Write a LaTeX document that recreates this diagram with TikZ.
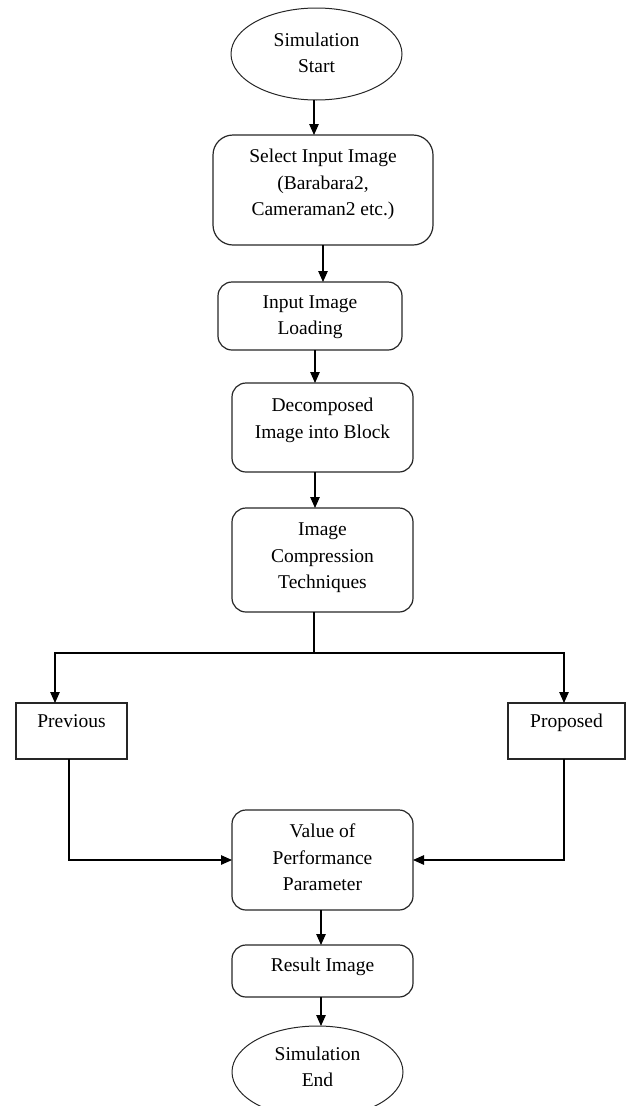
\documentclass[tikz,border=0pt]{standalone}
\usepackage{fontspec}
\setmainfont{Liberation Serif}
\usetikzlibrary{shapes.geometric,arrows.meta}
\newcommand{\lift}[2]{\raisebox{#1}[\height][\depth]{\begin{tabular}{@{}c@{}}#2\end{tabular}}}
\begin{document}
\begin{tikzpicture}[x=1pt,y=-1pt,
  font=\fontsize{19.5}{26.5}\selectfont,
  base/.style={draw=black!85, line width=1.2pt, inner sep=0pt, outer sep=0pt},
  term/.style={base, ellipse, line width=1pt, minimum width=171pt, minimum height=92pt},
  rbox/.style={base, rectangle, rounded corners=14pt, minimum width=181pt},
  pbox/.style={base, rectangle, minimum height=56pt},
  arr/.style={line width=1.2pt, -{Triangle[length=11pt,width=9.5pt]}},
  ln/.style={line width=1.2pt}]
\useasboundingbox (0,0) rectangle (629,1106);

\node[term] (start) at (316.5,54) {\lift{0pt}{Simulation\\Start}};
\node[rbox, rounded corners=20pt, minimum width=220pt, minimum height=110pt] (select) at (323,190) {\lift{6pt}{Select Input Image\\(Barabara2,\\Cameraman2 etc.)}};
\node[rbox, minimum width=184pt, minimum height=68pt] (input) at (310,316) {\lift{0pt}{Input Image\\Loading}};
\node[rbox, minimum height=89pt] (decomp) at (322.5,427.5) {\lift{8pt}{Decomposed\\Image into Block}};
\node[rbox, minimum height=104pt] (comp) at (322.5,560) {\lift{3pt}{Image\\Compression\\Techniques}};
\node[pbox, minimum width=111pt] (prev) at (71.5,731) {\lift{9pt}{Previous}};
\node[pbox, minimum width=117pt] (prop) at (566.5,731) {\lift{9pt}{Proposed}};
\node[rbox, minimum height=100pt] (value) at (322.5,860) {\lift{1pt}{Value of\\Performance\\Parameter}};
\node[rbox, minimum height=52pt] (result) at (322.5,971) {\lift{5pt}{Result Image}};
\node[term] (end) at (317.5,1072) {\lift{4pt}{Simulation\\End}};

\coordinate (xa) at (314,0);
\coordinate (xb) at (315,0);
\coordinate (xc) at (321,0);
\coordinate (xl) at (55,0);
\coordinate (xp) at (69,0);
\coordinate (xr) at (564,0);
\coordinate (split) at (314,653);

\draw[arr] (start.south -| xa) -- (select.north -| xa);
\draw[arr] (select.south) -- (select.south |- input.north);
\draw[arr] (input.south -| xb) -- (decomp.north -| xb);
\draw[arr] (decomp.south -| xb) -- (comp.north -| xb);
\draw[ln] (comp.south -| split) -- (split);
\draw[arr] (split) -| (prev.north -| xl);
\draw[arr] (split) -| (prop.north -| xr);
\draw[arr] (prev.south -| xp) |- (value.west);
\draw[arr] (prop.south -| xr) |- (value.east);
\draw[arr] (value.south -| xc) -- (result.north -| xc);
\draw[arr] (result.south -| xc) -- (end.north -| xc);
\end{tikzpicture}
\end{document}
